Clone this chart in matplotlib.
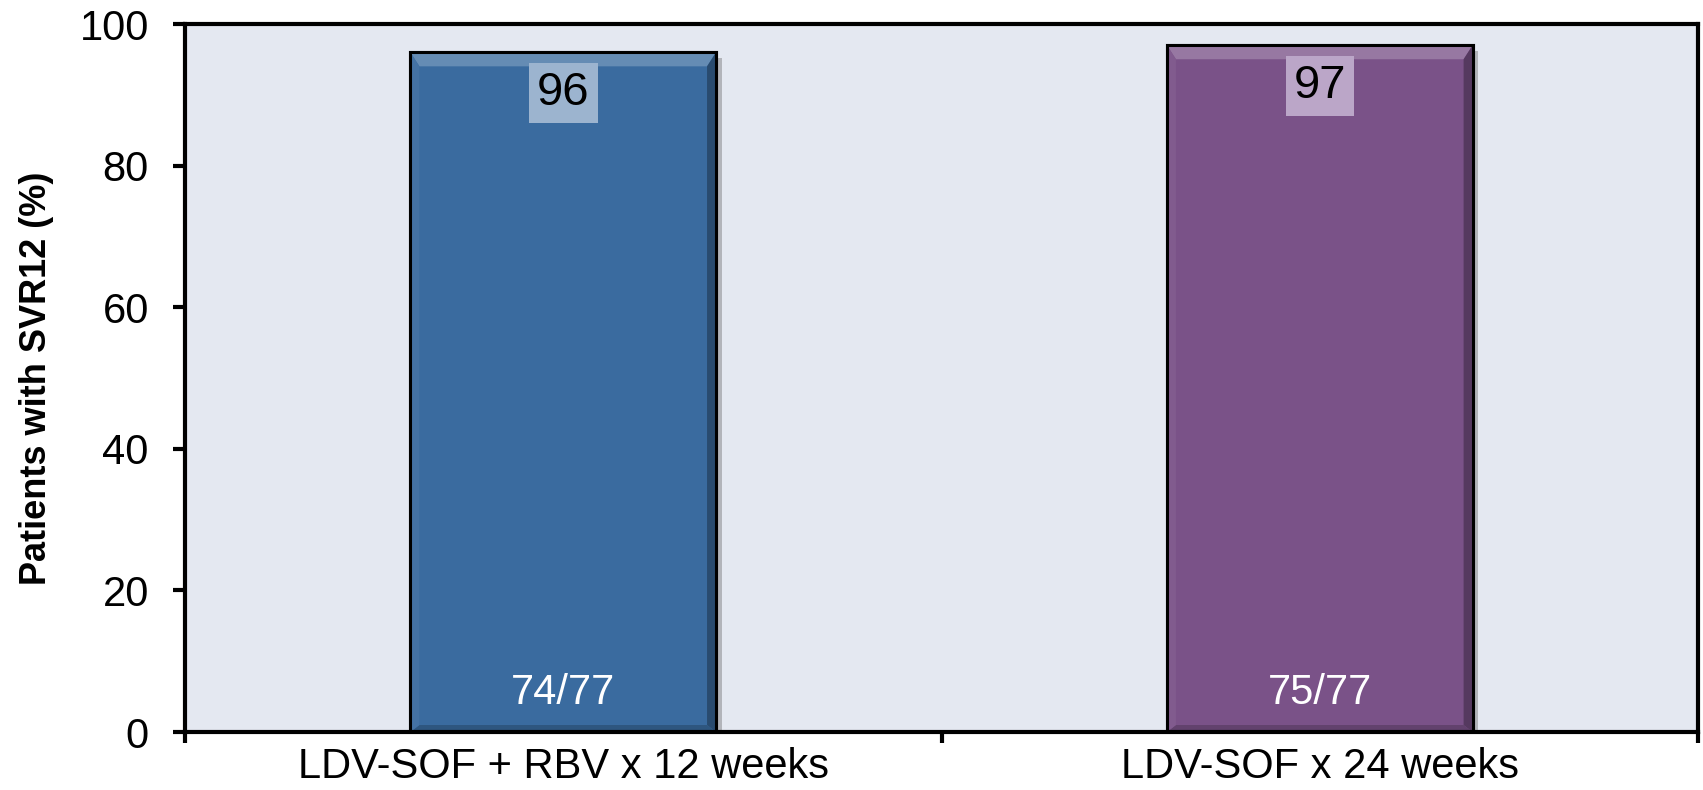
import matplotlib
matplotlib.use("Agg")
import matplotlib.pyplot as plt
import matplotlib.patheffects as pe
from matplotlib.patches import Polygon
import numpy as np

plt.rcParams["font.family"] = ["Liberation Sans", "DejaVu Sans"]

# SVR12 results per arm
arms = ["LDV-SOF + RBV x 12 weeks", "LDV-SOF x 24 weeks"]
svr_pct = [96, 97]
responders = ["74/77", "75/77"]
bar_colors = ["#3a6b9f", "#7a5288"]
label_box_colors = ["#9cb4cf", "#bba6c8"]
y_ticks = [0, 20, 40, 60, 80, 100]


def shade(hex_color, factor):
    rgb = np.array(matplotlib.colors.to_rgb(hex_color))
    if factor >= 1:
        rgb = rgb + (1 - rgb) * (factor - 1)
    else:
        rgb = rgb * factor
    return tuple(np.clip(rgb, 0, 1))


fig = plt.figure(figsize=(17.03, 7.9), dpi=100)
ax = fig.add_axes([0.1086, 0.0734, 0.8885, 0.8962])
ax.set_facecolor("#e4e8f1")

x = np.arange(len(arms))
width = 0.404
bars = ax.bar(x, svr_pct, width=width, color=bar_colors, edgecolor="black",
              linewidth=2.2, zorder=3)
for b in bars:
    b.set_path_effects([pe.SimplePatchShadow(offset=(4, -4), shadow_rgbFace="#555555",
                                             alpha=0.35), pe.Normal()])

ax.set_xlim(-0.5, len(arms) - 0.5)
ax.set_ylim(0, 100)

# bevel on each bar, sized in pixels
fig.canvas.draw()
inv = ax.transData.inverted()
p0 = inv.transform((0, 0))
px_x = inv.transform((1, 0))[0] - p0[0]
px_y = inv.transform((0, 1))[1] - p0[1]
top_px, side_px, bot_px = 14, 9, 7
for b, c in zip(bars, bar_colors):
    x0, x1 = b.get_x(), b.get_x() + b.get_width()
    y1 = b.get_height()
    y0 = 0
    ix0, ix1 = x0 + side_px * px_x, x1 - side_px * px_x
    iy1 = y1 - top_px * px_y
    iy0 = y0 + bot_px * px_y
    ax.add_patch(Polygon([(x0, y1), (x1, y1), (ix1, iy1), (ix0, iy1)],
                         closed=True, facecolor=shade(c, 1.22), edgecolor="none", zorder=3.1))
    ax.add_patch(Polygon([(x1, y1), (x1, y0), (ix1, iy0), (ix1, iy1)],
                         closed=True, facecolor=shade(c, 0.70), edgecolor="none", zorder=3.1))
    ax.add_patch(Polygon([(x0, y0), (x1, y0), (ix1, iy0), (ix0, iy0)],
                         closed=True, facecolor=shade(c, 0.80), edgecolor="none", zorder=3.1))
    ax.add_patch(Polygon([(x0, y0), (x0, y1), (ix0, iy1), (ix0, iy0)],
                         closed=True, facecolor=shade(c, 1.05), edgecolor="none", zorder=3.1))
    # redraw outline over the bevel
    ax.add_patch(Polygon([(x0, y0), (x1, y0), (x1, y1), (x0, y1)], closed=True,
                         facecolor="none", edgecolor="black", linewidth=2.2, zorder=3.2))

# value labels
for xi, v, box_c, n in zip(x, svr_pct, label_box_colors, responders):
    ax.annotate(str(v), xy=(xi, v), xytext=(0, -29.5), textcoords="offset points",
                ha="center", va="center", fontsize=34, color="black", zorder=4,
                bbox=dict(boxstyle="square,pad=0.17", facecolor=box_c, edgecolor="none"))
    ax.annotate(n, xy=(xi, 0), xytext=(0, 28), textcoords="offset points",
                ha="center", va="center", fontsize=30, color="white", zorder=4)

# axes styling
for s in ax.spines.values():
    s.set_linewidth(3)
    s.set_color("black")
    s.set_zorder(5)
    s.set_path_effects([pe.SimplePatchShadow(offset=(3, -4), shadow_rgbFace="#666666",
                                             alpha=0.4), pe.Normal()])

ax.set_yticks(y_ticks)
ax.tick_params(axis="y", direction="out", length=9, width=3, labelsize=30, pad=17)
ax.set_xticks(x)
ax.set_xticklabels(arms)
ax.tick_params(axis="x", which="major", length=0, labelsize=30, pad=11)
ax.set_xticks(np.arange(-0.5, len(arms)), minor=True)
ax.tick_params(axis="x", which="minor", direction="out", length=8, width=3)
ax.set_ylabel("Patients with SVR12 (%)", fontsize=26, fontweight="bold", labelpad=18)

fig.savefig("out.png", dpi=100)
